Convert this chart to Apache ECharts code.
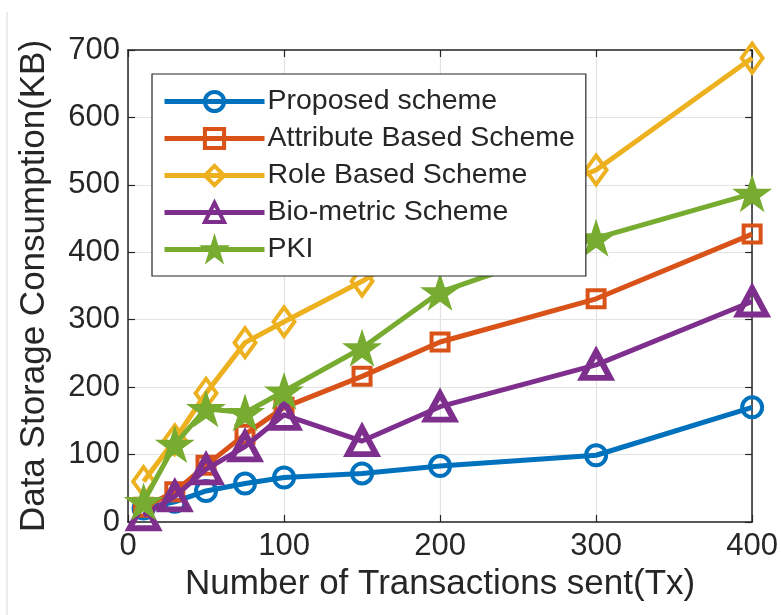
<!DOCTYPE html>
<html>
<head>
<meta charset="utf-8">
<script src="https://cdn.jsdelivr.net/npm/echarts@6/dist/echarts.min.js"></script>
<style>
  html, body { margin: 0; padding: 0; background: #ffffff; }
  #chart { width: 781px; height: 615px; }
</style>
</head>
<body>
<div id="chart"></div>
<script>
// Transactions sent (x values)
const transactions = [10, 30, 50, 75, 100, 150, 200, 300, 400];

// Storage consumption (KB) per scheme
const proposedScheme  = [20, 30, 46, 57, 66, 72, 83, 99, 170];
const attributeScheme = [22, 45, 84, 130, 170, 216, 267, 331, 427];
const roleScheme      = [60, 122, 191, 266, 297, 357, 430, 522, 688];
const bioScheme       = [10, 38, 78, 112, 159, 120, 171, 233, 327];
const pkiScheme       = [30, 115, 168, 162, 194, 258, 341, 421, 487];

const seriesNames = [
  'Proposed scheme',
  'Attribute Based Scheme',
  'Role Based Scheme',
  'Bio-metric Scheme',
  'PKI'
];

const xTicks = [0, 100, 200, 300, 400];
const yTicks = [0, 100, 200, 300, 400, 500, 600, 700];

const STAR = 'path://M50,0L61.2,34.5L97.6,34.5L68.2,55.9L79.4,90.5L50,69.1L20.6,90.5L31.8,55.9L2.4,34.5L38.8,34.5Z';

const styles = [
  { color: '#0072BD', symbol: 'circle',   size: 20,       fill: false, border: 4 },
  { color: '#D95319', symbol: 'rect',     size: 17,       fill: false, border: 4 },
  { color: '#EDB120', symbol: 'diamond',  size: [21, 29], fill: false, border: 4 },
  { color: '#7E2F8E', symbol: 'triangle', size: [28, 26], fill: false, border: 6 },
  { color: '#77AC30', symbol: STAR,       size: [34, 32], fill: true,  border: 2 }
];

const values = [proposedScheme, attributeScheme, roleScheme, bioScheme, pkiScheme];

const FONT = '"Liberation Sans", Arial, Helvetica, sans-serif';
const AXIS = '#262626';

const series = values.map((vals, i) => {
  const s = styles[i];
  return {
    name: seriesNames[i],
    type: 'line',
    xAxisIndex: 0,
    yAxisIndex: 0,
    data: transactions.map((x, j) => [x, vals[j]]),
    color: s.color,
    symbol: s.symbol,
    symbolSize: s.size,
    showSymbol: true,
    showAllSymbol: true,
    lineStyle: { color: s.color, width: 5 },
    itemStyle: {
      color: s.fill ? s.color : 'rgba(255,255,255,0)',
      borderColor: s.color,
      borderWidth: s.border
    },
    emphasis: { disabled: true },
    animation: false,
    z: 2 + i
  };
});

const chart = echarts.init(document.getElementById('chart'), null, { renderer: 'canvas' });

chart.setOption({
  backgroundColor: '#ffffff',
  animation: false,
  grid: { left: 128, right: 26, top: 50, bottom: 93, containLabel: false },
  legend: {
    orient: 'vertical',
    left: 152,
    top: 74,
    z: 20,
    padding: [13, 11, 12, 10],
    itemWidth: 100,
    itemHeight: 24,
    itemGap: 8,
    backgroundColor: '#ffffff',
    borderColor: AXIS,
    borderWidth: 1.2,
    data: seriesNames,
    lineStyle: { width: 5 },
    itemStyle: { borderWidth: 4 },
    textStyle: {
      fontFamily: FONT, fontSize: 28.5, lineHeight: 26,
      color: '#262626', padding: [0, 0, 0, -2]
    }
  },
  xAxis: [
    {
      type: 'value',
      position: 'bottom',
      min: 0, max: 400, interval: 100,
      name: 'Number of Transactions sent(Tx)',
      nameLocation: 'middle',
      nameGap: 40,
      nameTextStyle: { fontFamily: FONT, fontSize: 35, color: '#262626' },
      axisLine: { show: true, onZero: false, lineStyle: { color: AXIS, width: 1.5 } },
      axisTick: { show: true, inside: true, length: 7, lineStyle: { color: AXIS, width: 1.2 } },
      axisLabel: {
        fontFamily: FONT, fontSize: 31, color: '#262626', margin: 9,
        formatter: v => (xTicks.indexOf(v) >= 0 ? String(v) : '')
      },
      splitLine: { show: true, lineStyle: { color: '#e3e3e3', width: 1.2 } }
    },
    {
      type: 'value',
      position: 'top',
      min: 0, max: 400, interval: 100,
      axisLine: { show: true, onZero: false, lineStyle: { color: AXIS, width: 1.5 } },
      axisTick: { show: true, inside: true, length: 7, lineStyle: { color: AXIS, width: 1.2 } },
      axisLabel: { show: false },
      splitLine: { show: false }
    }
  ],
  yAxis: [
    {
      type: 'value',
      position: 'left',
      min: 0, max: 700, interval: 100,
      name: 'Data Storage Consumption(KB)',
      nameLocation: 'middle',
      nameGap: 76,
      nameTextStyle: { fontFamily: FONT, fontSize: 35, color: '#262626' },
      axisLine: { show: true, onZero: false, lineStyle: { color: AXIS, width: 1.5 } },
      axisTick: { show: true, inside: true, length: 7, lineStyle: { color: AXIS, width: 1.2 } },
      axisLabel: {
        fontFamily: FONT, fontSize: 31, color: '#262626', margin: 8,
        formatter: v => (yTicks.indexOf(v) >= 0 ? String(v) : '')
      },
      splitLine: { show: true, lineStyle: { color: '#e3e3e3', width: 1.2 } }
    },
    {
      type: 'value',
      position: 'right',
      min: 0, max: 700, interval: 100,
      axisLine: { show: true, onZero: false, lineStyle: { color: AXIS, width: 1.5 } },
      axisTick: { show: true, inside: true, length: 7, lineStyle: { color: AXIS, width: 1.2 } },
      axisLabel: { show: false },
      splitLine: { show: false }
    }
  ],
  graphic: [
    {
      type: 'line',
      shape: { x1: 7, y1: 12, x2: 7, y2: 615 },
      style: { stroke: '#ececec', lineWidth: 2 },
      silent: true
    }
  ],
  series: series
});
</script>
</body>
</html>
